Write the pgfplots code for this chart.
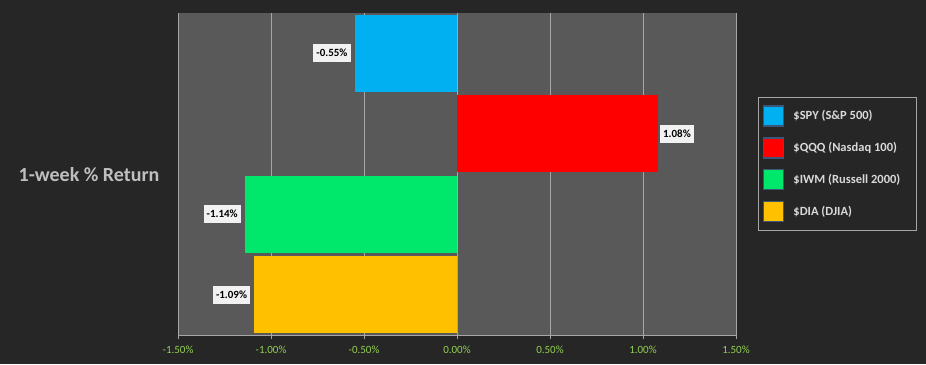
\documentclass[border=0pt]{standalone}
\usepackage{pgfplots}
\pgfplotsset{compat=1.18}
\usepackage{fontspec}
\setmainfont{Carlito}
\definecolor{bgc}{HTML}{262626}
\definecolor{plotbg}{HTML}{595959}
\definecolor{gridc}{HTML}{A6A6A6}
\definecolor{tickgreen}{HTML}{92D050}
\definecolor{titlec}{HTML}{BFBFBF}
\definecolor{legtext}{HTML}{D9D9D9}
\definecolor{legframe}{HTML}{A6A6A6}
\definecolor{legbord}{RGB}{59,87,120}
\definecolor{cspy}{HTML}{00B0F0}
\definecolor{cqqq}{HTML}{FF0000}
\definecolor{ciwm}{HTML}{00E86B}
\definecolor{cdia}{HTML}{FFC000}
\newcommand{\legsq}[1]{\addlegendimage{legend image code/.code={\draw[fill=#1,draw=legbord,line width=1.3pt] (0pt,-10pt) rectangle (20pt,10pt);}}}
\begin{document}
\begin{tikzpicture}[x=1pt,y=1pt]
\fill[bgc] (0,0) rectangle (926,364);
\node[text=titlec, font=\bfseries\fontsize{20}{24}\selectfont] at (89,189) {1-week \% Return};
\begin{axis}[
  at={(178pt,29pt)}, anchor=south west,
  scale only axis, width=558pt, height=322pt,
  xmin=-1.5, xmax=1.5, ymin=-0.5, ymax=3.5,
  xtick={-1.5,-1,-0.5,0,0.5,1,1.5},
  xticklabels={-1.50\%,-1.00\%,-0.50\%,0.00\%,0.50\%,1.00\%,1.50\%},
  ytick=\empty,
  xtick pos=bottom,
  tick align=outside,
  major tick length=4pt,
  tick style={gridc, line width=0.8pt},
  xticklabel style={text=tickgreen, font=\fontsize{11}{13}\selectfont, yshift=-3pt},
  axis background/.style={fill=plotbg},
  axis line style={draw=none},
  xmajorgrids,
  grid style={gridc, line width=0.6pt},
  legend style={at={(1.039,0.739)}, anchor=north west, fill=bgc, draw=legframe, line width=0.8pt,
    text=legtext, font=\bfseries\fontsize{12.5}{14}\selectfont, row sep=10.5pt, inner xsep=5pt, inner ysep=8pt,
    cells={anchor=west},
    /tikz/every odd column/.append style={column sep=7pt}},
  legend cell align=left,
  every node near coord/.append style={fill=gray!10, text=black, font=\bfseries\fontsize{11}{13}\selectfont,
    inner xsep=3pt, inner ysep=3pt, minimum height=18pt},
  point meta=explicit symbolic,
  nodes near coords,
]
\addplot[xbar, bar width=0.96, bar shift=0pt, fill=cspy, draw=none, forget plot,
  every node near coord/.append style={anchor=east, xshift=-4pt}] coordinates {(-0.55,3) [-0.55\%]};
\addplot[xbar, bar width=0.96, bar shift=0pt, fill=cqqq, draw=none, forget plot,
  every node near coord/.append style={anchor=west, xshift=2pt}] coordinates {(1.08,2) [1.08\%]};
\addplot[xbar, bar width=0.96, bar shift=0pt, fill=ciwm, draw=none, forget plot,
  every node near coord/.append style={anchor=east, xshift=-4pt}] coordinates {(-1.14,1) [-1.14\%]};
\addplot[xbar, bar width=0.96, bar shift=0pt, fill=cdia, draw=none, forget plot,
  every node near coord/.append style={anchor=east, xshift=-4pt}] coordinates {(-1.09,0) [-1.09\%]};
\legsq{cspy}\addlegendentry{\$SPY (S\&P 500)}
\legsq{cqqq}\addlegendentry{\$QQQ (Nasdaq 100)}
\legsq{ciwm}\addlegendentry{\$IWM (Russell 2000)\hspace*{9pt}}
\legsq{cdia}\addlegendentry{\$DIA (DJIA)}
\draw[gridc, line width=0.8pt] (rel axis cs:0,0) -- (rel axis cs:1,0);
\end{axis}
\end{tikzpicture}
\end{document}
